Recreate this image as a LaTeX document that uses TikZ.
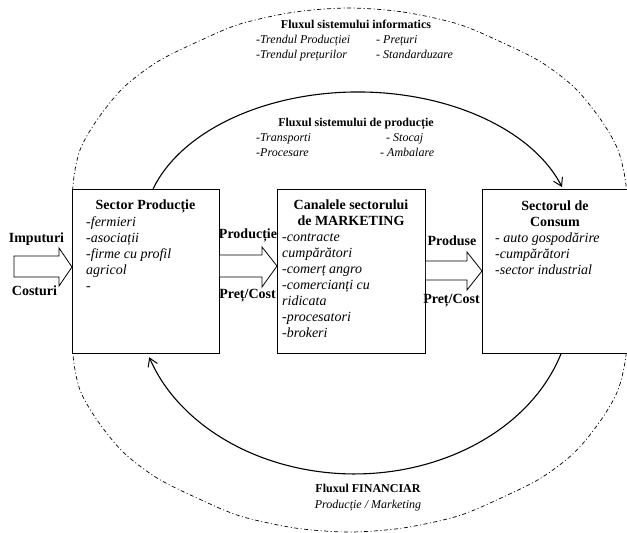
\documentclass[tikz,border=0pt]{standalone}
\usepackage{fontspec}
\setmainfont{Liberation Serif}
\usetikzlibrary{arrows.meta,calc}
\begin{document}
\begin{tikzpicture}[x=1pt,y=-1pt,
  box/.style={draw, line width=0.8pt, fill=white, inner sep=0pt, anchor=north west},
  ttl/.style={font=\fontsize{14}{16}\selectfont\bfseries, anchor=base, inner sep=0pt},
  itm/.style={font=\fontsize{14}{16}\selectfont\itshape, anchor=base west, inner sep=0pt},
  lab/.style={font=\fontsize{14}{16}\selectfont\bfseries, anchor=base, inner sep=0pt},
  ftl/.style={font=\fontsize{12}{14}\selectfont\bfseries, anchor=base, inner sep=0pt},
  fitm/.style={font=\fontsize{12}{14}\selectfont\itshape, anchor=base west, inner sep=0pt},
  fitc/.style={font=\fontsize{12}{14}\selectfont\itshape, anchor=base, inner sep=0pt},
  hollow/.style={draw, line width=0.8pt, fill=white, line join=miter},
  flow/.style={line width=1.1pt, -{Straight Barb[length=8pt,width=10pt,line width=1pt]}},
  boundary/.style={line width=0.7pt, dash pattern=on 4pt off 2.5pt on 1pt off 2.5pt}
]
\useasboundingbox (0,0) rectangle (627,533);

% outer dash-dot boundary
\draw[boundary] plot[smooth cycle] coordinates {
 (349,8) (403,12) (458,24) (501,42) (541,62) (575,88) (601,120) (618,150)
 (626,185) (627,230) (627,310) (626,355) (618,390) (601,420) (575,452)
 (541,478) (501,498) (458,516) (403,528) (349,532) (295,528) (240,516)
 (197,498) (157,478) (123,452) (97,420) (80,390) (73,355) (73,310)
 (73,230) (73,185) (80,150) (97,120) (123,88) (157,62) (197,42) (240,24) (295,12)};

% top labels
\node[ftl] (tinf) at (356,28) {Fluxul sistemului informatics};
\node[fitm] at (256,43) {-Trendul Producției};
\node[fitm] at (256,58) {-Trendul prețurilor};
\node[fitm] at (376,43) {- Prețuri};
\node[fitm] at (376,58) {- Standarduzare};
\node[ftl] (tprod) at (356,126) {Fluxul sistemului de producție};
\node[fitm] at (256,141) {-Transporti};
\node[fitm] at (256,156) {-Procesare};
\node[fitm] at (386,141) {- Stocaj};
\node[fitm] at (380,156) {- Ambalare};
\node[ftl] (tfin) at (368,492) {Fluxul FINANCIAR};
\node[fitc] at (368,508) {Producție / Marketing};

% boxes
\node[box, minimum width=147pt, minimum height=164pt] (b1) at (72,189) {};
\node[box, minimum width=148pt, minimum height=164pt] (b2) at (277,189) {};
\node[box, minimum width=152pt, minimum height=164pt] (b3) at (482,189) {};

% box 1 text
\node[ttl] at (145.5,209) {Sector Producție};
\foreach \t [count=\i] in {-fermieri,-asociații,-firme cu profil,agricol,-}
  \node[itm] at (86,{226+16*(\i-1)}) {\t};

% box 2 text
\node[ttl] at (351,209) {Canalele sectorului};
\node[ttl] at (351,225) {de MARKETING};
\foreach \t [count=\i] in {-contracte,cumpărători,-comerț angro,-comercianți cu,ridicata,-procesatori,-brokeri}
  \node[itm] at (282,{241+16*(\i-1)}) {\t};

% box 3 text
\node[ttl] at (555,210) {Sectorul de};
\node[ttl] at (555,226) {Consum};
\foreach \t [count=\i] in {- auto gospodărire,-cumpărători,-sector industrial}
  \node[itm] at (495,{242+16*(\i-1)}) {\t};

% hollow arrows
\coordinate (in0) at (14,267);
\draw[hollow] (in0 |- 0,256) -- (59,256) -- (59,248) -- (b1.west |- 0,267)
  -- (59,286) -- (59,277) -- (in0 |- 0,277) -- cycle;
\draw[hollow] (b1.east |- 0,255) -- (262,255) -- (262,247) -- (b2.west |- 0,266)
  -- (262,287) -- (262,277) -- (b1.east |- 0,277);
\draw[hollow] (b2.east |- 0,261) -- (467,261) -- (467,252) -- (b3.west |- 0,271)
  -- (467,290) -- (467,280) -- (b2.east |- 0,280);

% arrow labels
\node[lab] at (36.5,242) {Imputuri};
\node[lab] at (34.5,295) {Costuri};
\node[lab] at (248,238) {Producție};
\node[lab] at (247.5,298) {Preț/Cost};
\node[lab] at (452,245) {Produse};
\node[lab] at (451.5,303) {Preț/Cost};

% flow arcs
\draw[flow] ([xshift=81pt]b1.north west) arc[start angle=197.28, end angle=341.85, x radius=214.7, y radius=138];
\draw[flow] ([xshift=79pt]b3.south west) arc[start angle=17.8, end angle=161, x radius=217, y radius=173];
\end{tikzpicture}
\end{document}
